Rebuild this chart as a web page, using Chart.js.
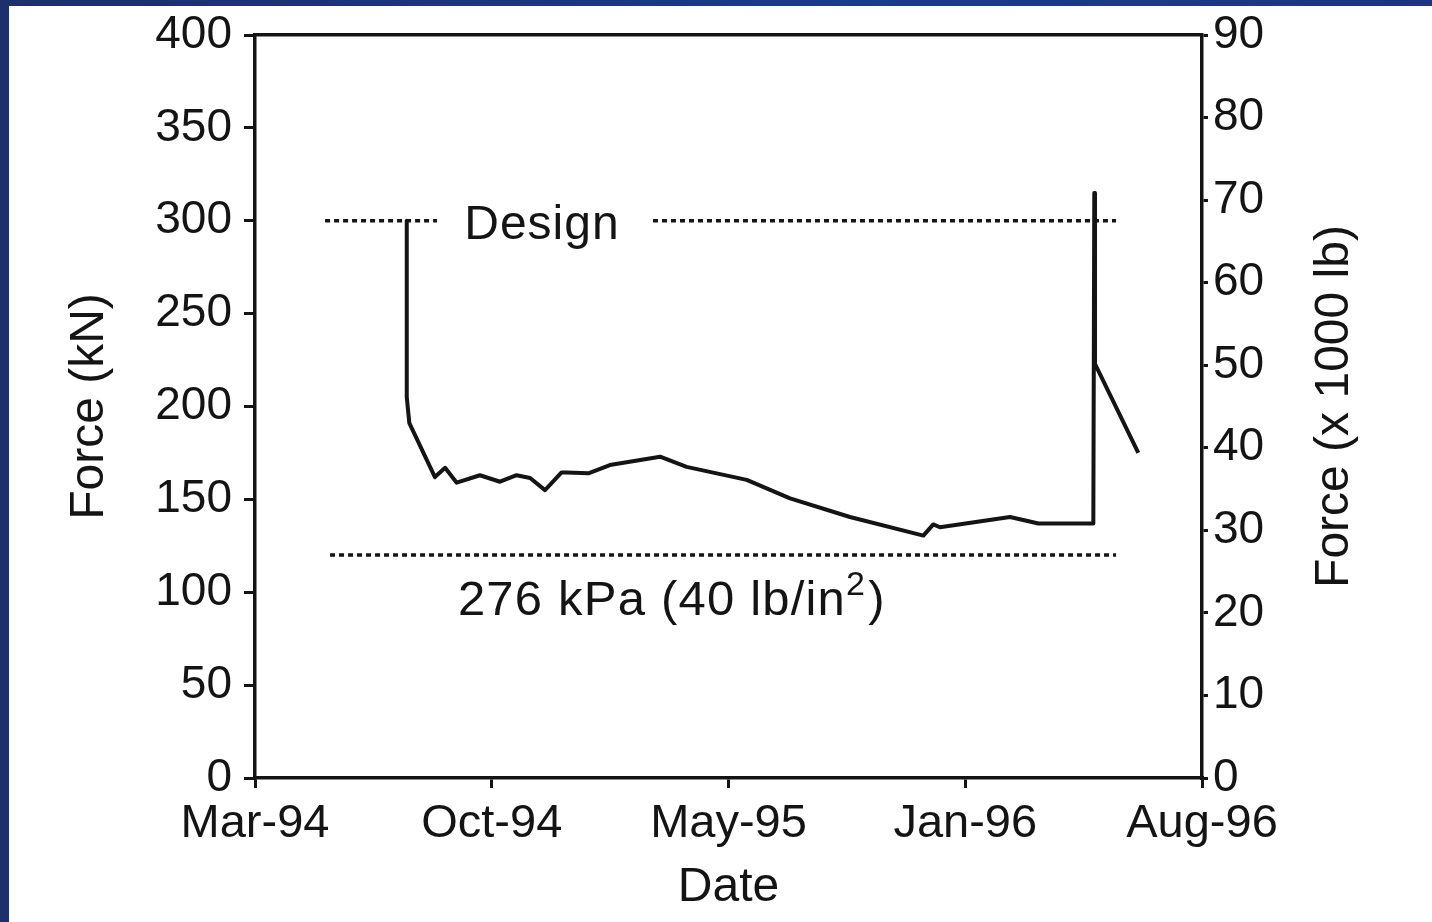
<!DOCTYPE html>
<html>
<head>
<meta charset="utf-8">
<title>Force vs Date</title>
<script src="https://cdn.jsdelivr.net/npm/chart.js@4.4.1/dist/chart.umd.min.js"></script>
<style>
  html, body { margin: 0; padding: 0; background: #fff; }
  #wrap { position: relative; width: 1432px; height: 922px; overflow: hidden; background: #fff; }
  #topBar { position: absolute; left: 0; top: 0; width: 1432px; height: 6px; background: linear-gradient(90deg, #1d2f6c, #1a3a8c 60%, #1d3580); }
  #leftBar { position: absolute; left: 0; top: 0; width: 9px; height: 922px; background: #1d2f6c; }
  canvas { position: absolute; left: 0; top: 0; }
</style>
</head>
<body>
<div id="wrap">
  <canvas id="chart" width="1432" height="922"></canvas>
  <div id="topBar"></div>
  <div id="leftBar"></div>
</div>
<script>
// x positions are in tick units: 0 = Mar-94 ... 4 = Aug-96 (ticks are evenly spaced)
const tickLabels = ['Mar-94', 'Oct-94', 'May-95', 'Jan-96', 'Aug-96'];

// measured force, kN
const forceX  = [0.641, 0.641, 0.652, 0.760, 0.803, 0.852, 0.950, 1.035, 1.105, 1.162, 1.225, 1.295, 1.316,
                 1.408, 1.499, 1.711, 1.823, 2.077, 2.260, 2.513, 2.823, 2.865, 2.893, 3.189, 3.309, 3.541,
                 3.545, 3.548, 3.731];
const forceKN = [300, 205, 191, 162, 167, 159, 163, 159.5, 163, 161.5, 155, 164.5, 164.5,
                 164, 168.5, 173, 167.5, 160.5, 150.5, 140.5, 130.5, 136.5, 135, 140.5, 137, 137,
                 315, 223, 175];

// reference lines
const designKN = 300;
const designLeftX = [0.296, 0.769];
const designRightX = [1.681, 3.637];
const pressureKN = 120;
const pressureX = [0.317, 3.637];

const leftTicks = { min: 0, max: 400, step: 50 };
const rightTicks = { min: 0, max: 90, step: 10 };

const FONT = '"Liberation Sans", Arial, Helvetica, sans-serif';
const INK = '#141414';

function pts(xs, ys) {
  return xs.map((x, i) => ({ x: x, y: Array.isArray(ys) ? ys[i] : ys }));
}

const dotted = {
  borderColor: INK,
  borderWidth: 3.5,
  borderDash: [5, 4],
  pointRadius: 0,
  fill: false,
  tension: 0
};

// text labels inside the plot and the right axis title
const notes = {
  id: 'notes',
  afterDraw(chart) {
    const ctx = chart.ctx;
    const x = chart.scales.x;
    const y = chart.scales.y;
    ctx.save();
    ctx.fillStyle = INK;
    ctx.font = '48px ' + FONT;
    ctx.textBaseline = 'alphabetic';

    ctx.textAlign = 'center';
    ctx.letterSpacing = '1px';
    ctx.fillText('Design', x.getPixelForValue(1.212), y.getPixelForValue(290));

    ctx.textAlign = 'left';
    ctx.font = '49px ' + FONT;
    ctx.letterSpacing = '1.2px';
    const main = '276 kPa (40 lb/in';
    let px = x.getPixelForValue(0.857);
    const py = y.getPixelForValue(88);
    ctx.fillText(main, px, py);
    px += ctx.measureText(main).width;
    ctx.font = '34px ' + FONT;
    ctx.fillText('2', px, py - 20);
    px += ctx.measureText('2').width + 2;
    ctx.font = '49px ' + FONT;
    ctx.fillText(')', px, py);

    // right axis title, reads bottom to top
    ctx.letterSpacing = '0px';
    ctx.font = '48px ' + FONT;
    const area = chart.chartArea;
    ctx.translate(1335, (area.top + area.bottom) / 2);
    ctx.rotate(-Math.PI / 2);
    ctx.textAlign = 'center';
    ctx.textBaseline = 'middle';
    ctx.fillText('Force (x 1000 lb)', 0, 0);
    ctx.restore();
  }
};

new Chart(document.getElementById('chart'), {
  type: 'line',
  data: {
    datasets: [
      { label: 'Force', data: pts(forceX, forceKN), borderColor: INK, borderWidth: 4,
        pointRadius: 0, fill: false, tension: 0, borderJoinStyle: 'round' },
      Object.assign({ label: 'Design L', data: pts(designLeftX, designKN) }, dotted),
      Object.assign({ label: 'Design R', data: pts(designRightX, designKN) }, dotted),
      Object.assign({ label: '276 kPa', data: pts(pressureX, pressureKN) }, dotted)
    ]
  },
  options: {
    responsive: false,
    animation: false,
    devicePixelRatio: 1,
    layout: { padding: 0 },
    plugins: { legend: { display: false }, tooltip: { enabled: false } },
    scales: {
      x: {
        type: 'linear',
        position: 'bottom',
        min: 0,
        max: 4,
        afterFit(s) { s.height = 144; },
        afterBuildTicks(s) { s.ticks = tickLabels.map((_, i) => ({ value: i })); },
        ticks: {
          autoSkip: false,
          maxRotation: 0,
          padding: 8,
          color: INK,
          font: { family: FONT, size: 47 },
          callback: (v) => tickLabels[v]
        },
        grid: { drawOnChartArea: false, color: INK, lineWidth: 3, tickLength: 10 },
        border: { color: INK, width: 3.5 },
        title: { display: true, text: 'Date', color: INK, font: { family: FONT, size: 48 },
                 padding: { top: 0, bottom: 5 } }
      },
      xTop: {
        type: 'linear',
        position: 'top',
        min: 0,
        max: 4,
        afterFit(s) { s.height = 35; },
        ticks: { display: false },
        grid: { drawOnChartArea: false, drawTicks: false },
        border: { color: INK, width: 3.5 }
      },
      y: {
        position: 'left',
        min: leftTicks.min,
        max: leftTicks.max,
        afterFit(s) { s.width = 255; },
        ticks: { stepSize: leftTicks.step, padding: 12, color: INK,
                 font: { family: FONT, size: 46, lineHeight: 1 } },
        grid: { drawOnChartArea: false, color: INK, lineWidth: 3, tickLength: 11 },
        border: { color: INK, width: 3.5 },
        title: { display: true, text: 'Force (kN)', color: INK, font: { family: FONT, size: 48 },
                 padding: { top: 61, bottom: 0 } }
      },
      y2: {
        position: 'right',
        min: rightTicks.min,
        max: rightTicks.max,
        afterFit(s) { s.width = 230; },
        ticks: { stepSize: rightTicks.step, padding: 5, color: INK,
                 font: { family: FONT, size: 46, lineHeight: 1 } },
        grid: { drawOnChartArea: false, color: INK, lineWidth: 3, tickLength: 6 },
        border: { color: INK, width: 3.5 }
      }
    }
  },
  plugins: [notes]
});
</script>
</body>
</html>
